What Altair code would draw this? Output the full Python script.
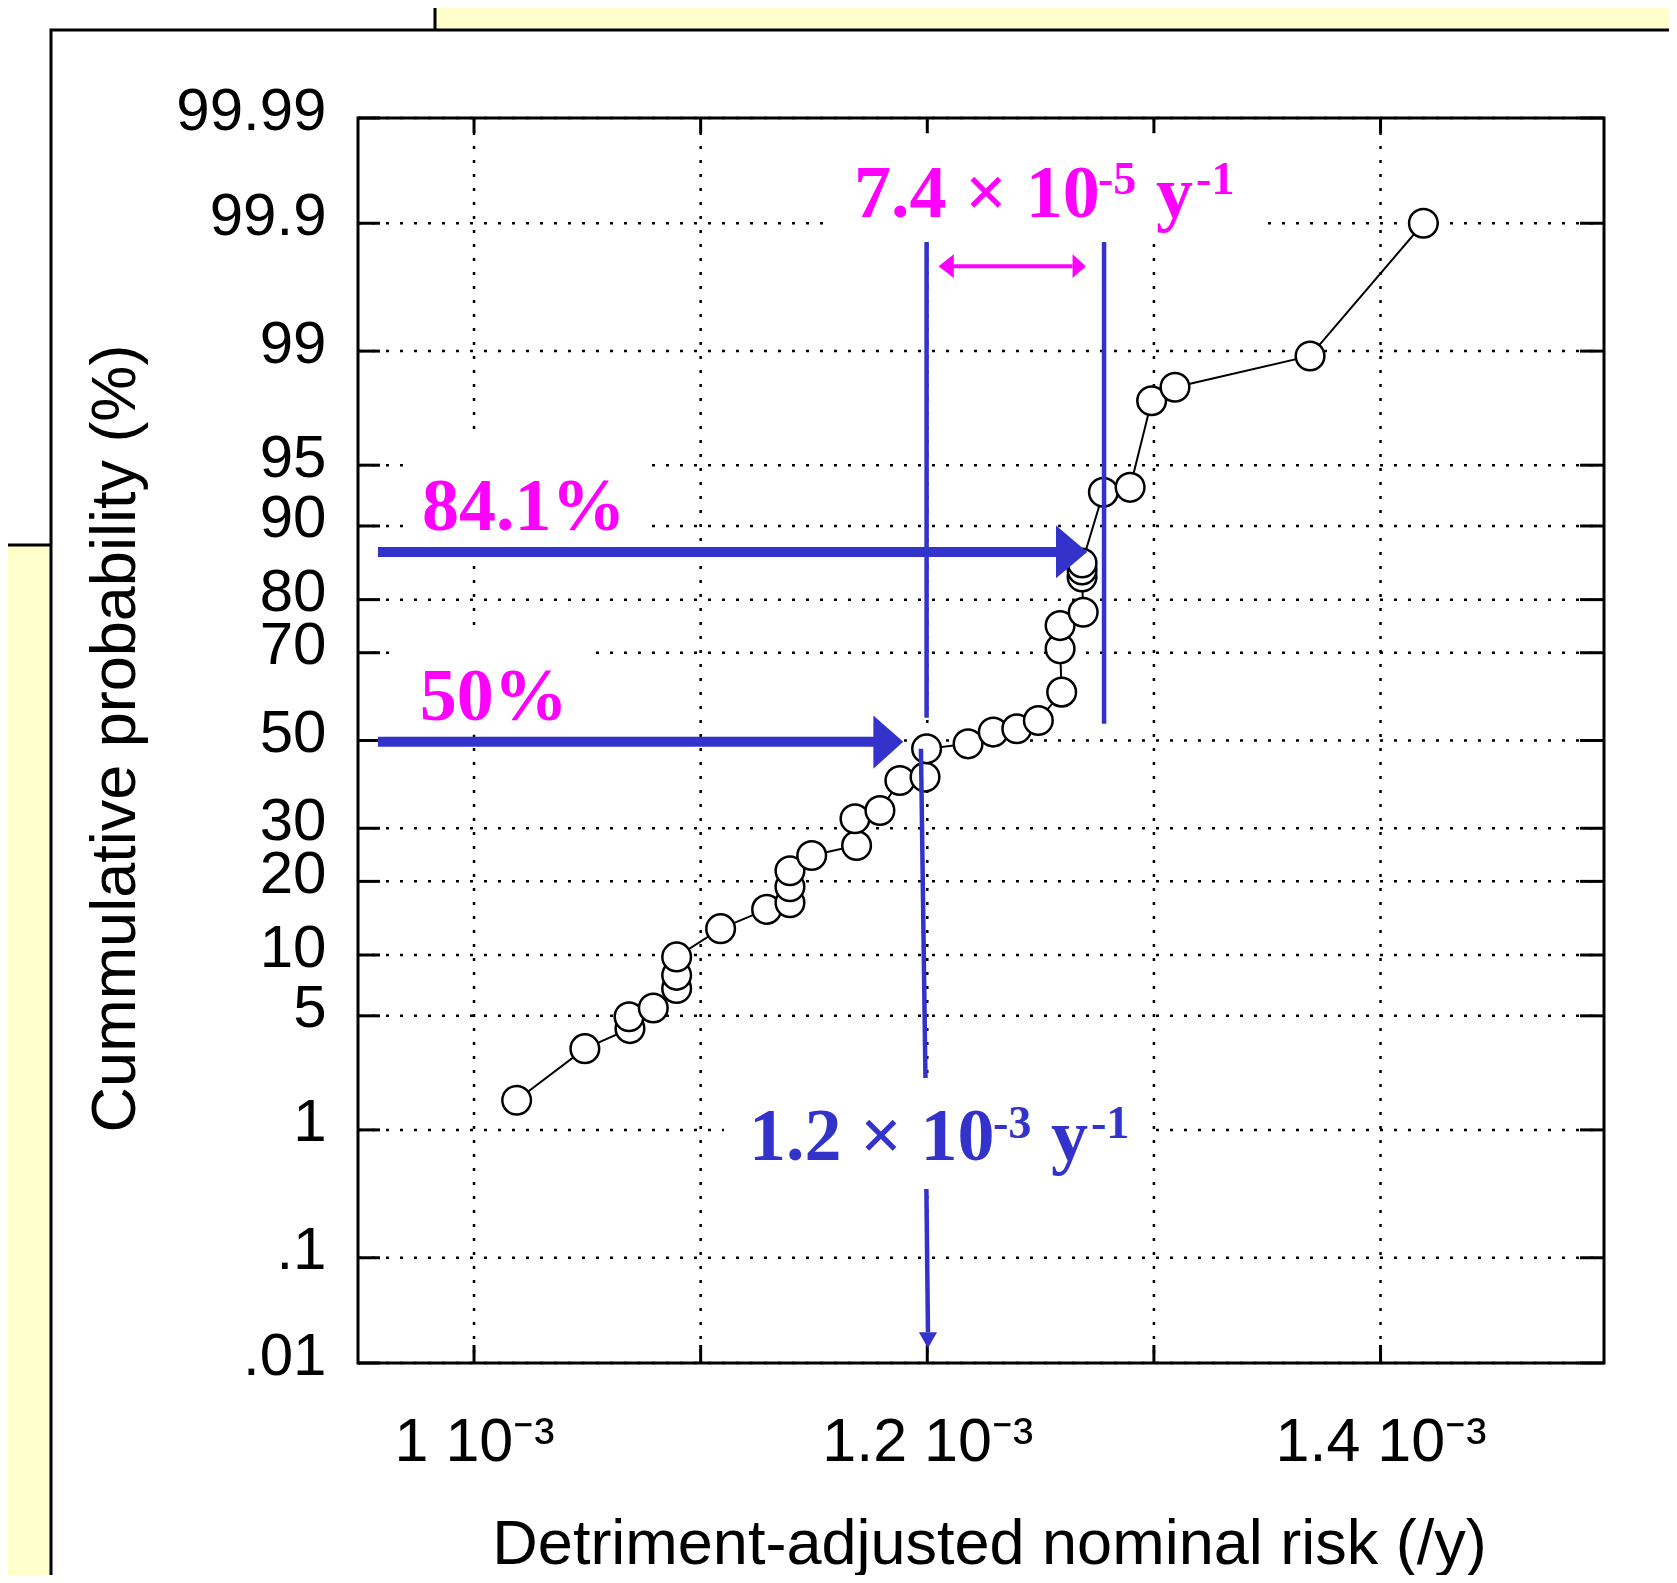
import altair as alt
import pandas as pd
from statistics import NormalDist

ND = NormalDist()


def probit(pct):
    return ND.inv_cdf(pct / 100.0)


# ---------------- data ----------------
risk = [1.0188e-3, 1.0489e-3, 1.0688e-3, 1.0684e-3, 1.0791e-3, 1.0894e-3, 1.0894e-3,
        1.0894e-3, 1.1088e-3, 1.1291e-3, 1.1394e-3, 1.1394e-3, 1.1394e-3, 1.1490e-3,
        1.1688e-3, 1.1681e-3, 1.1791e-3, 1.1879e-3, 1.1990e-3, 1.1997e-3, 1.2180e-3,
        1.2291e-3, 1.2395e-3, 1.2490e-3, 1.2593e-3, 1.2586e-3, 1.2586e-3, 1.2688e-3,
        1.2683e-3, 1.2683e-3, 1.2683e-3, 1.2777e-3, 1.2895e-3, 1.2990e-3, 1.3093e-3,
        1.3689e-3, 1.4189e-3]
cum_prob = [1.58, 3.28, 4.26, 4.94, 5.50, 6.92, 8.03,
            9.80, 13.05, 15.65, 16.63, 19.13, 21.83, 24.60,
            26.53, 32.01, 33.80, 40.56, 41.35, 48.02, 49.21,
            52.00, 52.79, 54.75, 61.37, 70.80, 75.38, 77.83,
            83.58, 84.59, 85.56, 93.10, 93.48, 97.88, 98.26,
            98.92, 99.90]

y_tick_pct = [0.01, 0.1, 1, 5, 10, 20, 30, 50, 70, 80, 90, 95, 99, 99.9, 99.99]
y_tick_lbl = [".01", ".1", "1", "5", "10", "20", "30", "50", "70", "80", "90", "95",
              "99", "99.9", "99.99"]
x_grid = [1.0e-3, 1.1e-3, 1.2e-3, 1.3e-3, 1.4e-3]
x_tick_lbl = ["1 10\u207b\u00b3", "", "1.2 10\u207b\u00b3", "", "1.4 10\u207b\u00b3"]

x_title = "Detriment-adjusted nominal risk (/y)"
y_title = "Cummulative probability (%)"

# annotation lines (blue / magenta)
ln_x1 = [0.9576e-3, 0.9576e-3, 1.1997e-3, 1.2780e-3, 1.1972e-3, 1.1996e-3, 1.2117e-3]
ln_x2 = [1.2575e-3, 1.1768e-3, 1.1997e-3, 1.2780e-3, 1.1992e-3, 1.2003e-3, 1.2641e-3]
ln_p1 = [87.00, 49.69, 99.8547, 99.8547, 48.02, 0.369, 99.7701]
ln_p2 = [87.00, 49.69, 55.39, 53.97, 2.190, 0.02035, 99.7701]
ln_w = [10, 10, 4.5, 4.5, 4.5, 4.5, 4]
ln_col = ["#3333CC"] * 6 + ["#FF00FF"]

# arrow heads pointing left / right
hd_id = ["a", "a", "b", "b", "c", "c", "d", "d"]
hd_x = [1.2568e-3, 1.2706e-3, 1.1762e-3, 1.1894e-3, 1.2117e-3, 1.2050e-3, 1.2641e-3, 1.2700e-3]
hd_ptop = [90.04, 87.00, 55.93, 49.69, 99.8167, 99.7701, 99.8167, 99.7701]
hd_pbot = [83.39, 87.00, 43.29, 49.69, 99.7131, 99.7701, 99.7131, 99.7701]
hd_col = ["#3333CC"] * 4 + ["#FF00FF"] * 4

# arrow head pointing down
dn_p = [0.02035, 0.01409]
dn_xl = [1.1963e-3, 1.2003e-3]
dn_xr = [1.2043e-3, 1.2003e-3]

# white boxes behind the annotation texts
bx_x1 = [1.1584e-3, 0.9695e-3, 0.9638e-3, 1.1103e-3]
bx_x2 = [1.3464e-3, 1.0776e-3, 1.0529e-3, 1.2974e-3]
bx_p1 = [99.8547, 87.62, 51.36, 0.369]
bx_p2 = [99.9857, 96.55, 74.37, 2.221]

# annotation texts
tx_txt = ["7.4 \u00d7 10", "-5", "y", "-1", "84.1%", "50%", "1.2 \u00d7 10", "-3", "y", "-1"]
tx_x = [1.1677e-3, 1.2753e-3, 1.3009e-3, 1.3186e-3, 0.9770e-3, 0.9761e-3,
        1.1213e-3, 1.2290e-3, 1.2546e-3, 1.2722e-3]
tx_p = [99.912, 99.945, 99.912, 99.945, 89.58, 54.92, 0.605, 0.871, 0.605, 0.871]
tx_fs = [74, 46, 74, 46, 74, 74, 74, 46, 74, 46]
tx_col = ["#FF00FF"] * 6 + ["#3333CC"] * 4

# ---------------- layout ----------------
W, H = 1246, 1245
BLUE = "#3333CC"
AX_FONT = "Liberation Sans"

xscale = alt.Scale(domain=[0.9488e-3, 1.4986e-3], nice=False, zero=False)
yscale = alt.Scale(domain=[probit(0.01), probit(99.99)], nice=False, zero=False)

y_tick_z = [probit(p) for p in y_tick_pct]
y_expr = " : ".join(f"abs(datum.value - ({z:.6f})) < 1e-4 ? '{l}'"
                    for z, l in zip(y_tick_z, y_tick_lbl)) + " : ''"
x_expr = " : ".join(f"abs(datum.value - {v:.6g}) < 1e-8 ? '{l}'"
                    for v, l in zip(x_grid, x_tick_lbl)) + " : ''"

xaxis = alt.Axis(values=x_grid, labelExpr=x_expr, grid=False, ticks=False, domain=False,
                 labelFont=AX_FONT, labelFontSize=61, labelColor="black",
                 labelBaseline="alphabetic", labelPadding=97, labelFlush=False,
                 labelOverlap=False, labelLimit=0,
                 title=x_title, titleFont=AX_FONT, titleFontSize=63,
                 titleFontWeight="normal", titleColor="black", titleX=631, titleY=200,
                 titleAlign="center", titleBaseline="alphabetic", titleLimit=0, zindex=1)
yaxis = alt.Axis(values=y_tick_z, labelExpr=y_expr, grid=False, ticks=False, domain=False,
                 labelFont=AX_FONT, labelFontSize=60, labelColor="black",
                 labelAlign="right", labelBaseline="alphabetic", labelOffset=11,
                 labelPadding=32, labelFlush=False, labelOverlap=False, labelLimit=0,
                 title=y_title, titleFont=AX_FONT, titleFontSize=63,
                 titleFontWeight="normal", titleColor="black", titleAngle=270,
                 titleX=-224, titleY=620, titleAlign="center",
                 titleBaseline="alphabetic", titleLimit=0, zindex=1)


def X(f):
    return alt.X(f, type="quantitative", scale=xscale, axis=xaxis)


def Y(f):
    return alt.Y(f, type="quantitative", scale=yscale, axis=yaxis)


one = pd.DataFrame({"k": [0]})

# background slide panels
bg_box = alt.Chart(one).mark_rect(fill="white", stroke="black", strokeWidth=3).encode(
    x=alt.value(-400), x2=alt.value(77), y=alt.value(-400), y2=alt.value(427))
bg_panel = alt.Chart(one).mark_rect(fill="white", stroke="black", strokeWidth=3).encode(
    x=alt.value(-307), x2=alt.value(2400), y=alt.value(-88), y2=alt.value(2400))

ydf = pd.DataFrame({"z": y_tick_z})
xdf = pd.DataFrame({"v": x_grid})

grid_style = dict(color="black", strokeWidth=2.5, strokeDash=[3, 11])
ygrid = alt.Chart(ydf).mark_rule(**grid_style).encode(
    y=Y("z"), x=alt.value(0), x2=alt.value("width"))
xgrid = alt.Chart(xdf).mark_rule(**grid_style).encode(
    x=X("v"), y=alt.value(0), y2=alt.value("height"))

tick_style = dict(color="black", strokeWidth=3)
tick_l = alt.Chart(ydf).mark_rule(**tick_style).encode(
    y=Y("z"), x=alt.value(0), x2=alt.value(22))
tick_r = alt.Chart(ydf).mark_rule(**tick_style).encode(
    y=Y("z"), x=alt.value(W - 24), x2=alt.value(W))
tick_b = alt.Chart(xdf).mark_rule(**tick_style).encode(
    x=X("v"), y=alt.value(H - 18), y2=alt.value(H))
tick_t = alt.Chart(xdf).mark_rule(**tick_style).encode(
    x=X("v"), y=alt.value(0), y2=alt.value(15))

pts = pd.DataFrame({"risk": risk, "p": cum_prob})
pts["z"] = [probit(p) for p in cum_prob]

line = alt.Chart(pts).mark_line(color="black", strokeWidth=2).encode(
    x=X("risk"), y=Y("z"), order=alt.Order("p:Q"))
points = alt.Chart(pts).mark_point(shape="circle", size=820, filled=True, fill="white",
                                   stroke="black", strokeWidth=2.5, opacity=1).encode(
    x=X("risk"), y=Y("z"))

bdf = pd.DataFrame({"x1": bx_x1, "x2": bx_x2,
                    "z1": [probit(p) for p in bx_p1], "z2": [probit(p) for p in bx_p2]})
boxes = alt.Chart(bdf).mark_rect(fill="white", strokeWidth=0).encode(
    x=X("x1"), x2="x2", y=Y("z1"), y2="z2")

ldf = pd.DataFrame({"x1": ln_x1, "x2": ln_x2,
                    "z1": [probit(p) for p in ln_p1], "z2": [probit(p) for p in ln_p2],
                    "w": ln_w, "col": ln_col})
lines = alt.Chart(ldf).mark_rule().encode(
    x=X("x1"), x2="x2", y=Y("z1"), y2="z2",
    strokeWidth=alt.StrokeWidth("w:Q", scale=None),
    color=alt.Color("col:N", scale=None))

hdf = pd.DataFrame({"id": hd_id, "x": hd_x,
                    "zt": [probit(p) for p in hd_ptop], "zb": [probit(p) for p in hd_pbot],
                    "col": hd_col})
heads = alt.Chart(hdf).mark_area(orient="vertical", opacity=1).encode(
    x=X("x"), y=Y("zt"), y2="zb", detail="id:N",
    color=alt.Color("col:N", scale=None))

ddf = pd.DataFrame({"z": [probit(p) for p in dn_p], "xl": dn_xl, "xr": dn_xr})
head_dn = alt.Chart(ddf).mark_area(orient="horizontal", color=BLUE, opacity=1).encode(
    y=Y("z"), x=X("xl"), x2="xr")

tdf = pd.DataFrame({"txt": tx_txt, "x": tx_x, "z": [probit(p) for p in tx_p],
                    "fs": tx_fs, "col": tx_col})
texts = alt.Chart(tdf).mark_text(align="left", baseline="alphabetic",
                                 font="Liberation Serif", fontWeight="bold").encode(
    x=X("x"), y=Y("z"), text="txt:N",
    size=alt.Size("fs:Q", scale=None),
    color=alt.Color("col:N", scale=None))

frame = alt.Chart(one).mark_rect(fillOpacity=0, stroke="black", strokeWidth=3).encode(
    x=alt.value(0), x2=alt.value("width"), y=alt.value(0), y2=alt.value("height"))

chart = alt.layer(
    bg_box, bg_panel, ygrid, xgrid, tick_l, tick_r, tick_b, tick_t,
    line, points, boxes, lines, heads, head_dn, texts, frame
).properties(
    width=W, height=H, background="#FFFFCC",
    autosize=alt.AutoSizeParams(type="none"),
    padding={"left": 350, "top": 110, "right": 65, "bottom": 212},
).configure_view(stroke=None)

chart.save("out.html", embed_options={"renderer": "svg", "actions": False})
